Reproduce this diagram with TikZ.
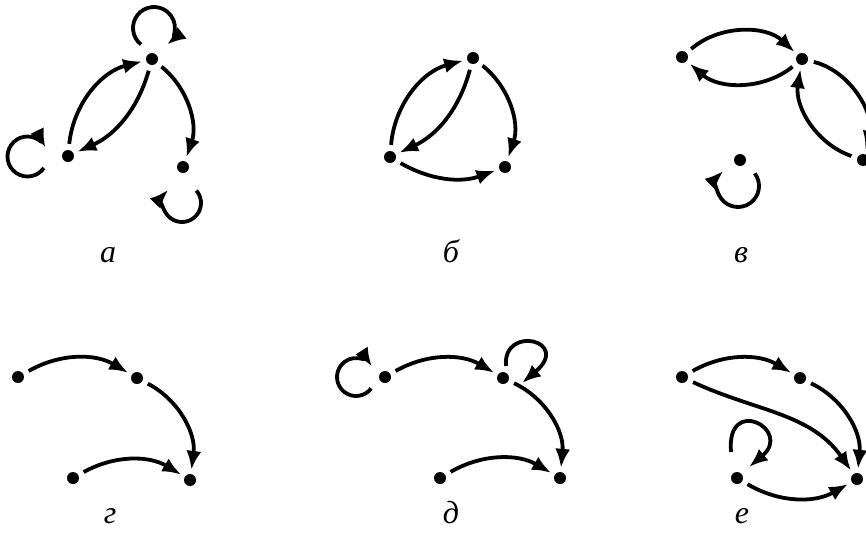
\documentclass[tikz,border=0pt]{standalone}
\usepackage{fontspec}
\setmainfont{Liberation Serif}
\usetikzlibrary{arrows.meta}

\begin{document}
\begin{tikzpicture}[
  x=1pt, y=1pt,
  vertex/.style={circle, fill=black, inner sep=0pt, minimum size=12pt},
  arr/.style={-{Latex[length=19pt,width=15pt]}, line width=3.8pt, shorten <=6pt, shorten >=4pt},
  loopline/.style={-{Latex[length=19pt,width=15pt]}, line width=3.8pt},
  caption/.style={font=\fontsize{32}{32}\selectfont\itshape, anchor=base}
]
  \useasboundingbox (0,0) rectangle (866,-538);

  % graph a
  \node[vertex] (a1) at (152,-59) {};
  \node[vertex] (a2) at (68,-156) {};
  \node[vertex] (a3) at (183,-167) {};
  \draw[arr] (a2) to[bend left=35] (a1);
  \draw[arr] (a1) to[bend left=25] (a2);
  \draw[arr] (a1) to[bend left=35] (a3);
  \coordinate (a1c) at ([shift={(2,31)}]a1.center);
  \coordinate (a2c) at ([shift={(-40.5,-0.5)}]a2.center);
  \coordinate (a3c) at ([shift={(-1,-36)}]a3.center);
  \draw[loopline] ([shift={(232:21)}]a1c) arc[start angle=232, end angle=-52, radius=21];
  \draw[loopline] ([shift={(-35:20)}]a2c) arc[start angle=-35, end angle=-334, radius=20];
  \draw[loopline] ([shift={(41:19)}]a3c) arc[start angle=41, end angle=-224, radius=19];
  \node[caption] (capa) at (108,-262) {а};

  % graph b
  \node[vertex] (b1) at (473,-58) {};
  \node[vertex] (b2) at (390,-157) {};
  \node[vertex] (b3) at (505,-167) {};
  \draw[arr] (b2) to[bend left=35] (b1);
  \draw[arr] (b1) to[bend left=25] (b2);
  \draw[arr] (b1) to[bend left=35] (b3);
  \draw[arr] (b2) to[bend right=25] (b3);
  \node[caption] (capb) at (451,-262) {б};

  % graph c
  \node[vertex] (c1) at (682,-57) {};
  \node[vertex] (c2) at (802,-59) {};
  \node[vertex] (c3) at (863,-160) {};
  \node[vertex] (c4) at (740,-160) {};
  \draw[arr] (c1) to[bend left=42] (c2);
  \draw[arr] (c2) to[bend left=40] (c1);
  \draw[arr] (c2) to[bend left=45] (c3);
  \draw[arr] (c3) to[bend left=40] (c2);
  \coordinate (c4c) at ([shift={(-2,-26)}]c4.center);
  \draw[loopline] ([shift={(37:21)}]c4c) arc[start angle=37, end angle=-226, radius=21];
  \node[caption] (capc) at (741,-262) {в};

  % graph d
  \node[vertex] (g1) at (18,-377) {};
  \node[vertex] (g2) at (137,-378) {};
  \node[vertex] (g3) at (190,-480) {};
  \node[vertex] (g4) at (73,-478) {};
  \draw[arr] (g1) to[bend left=30] (g2);
  \draw[arr] (g2) to[bend left=35] (g3);
  \draw[arr] (g4) to[bend left=30] (g3);
  \node[caption] (capg) at (110,-523) {г};

  % graph e
  \node[vertex] (d1) at (385,-377) {};
  \node[vertex] (d2) at (503,-378) {};
  \node[vertex] (d3) at (560,-478) {};
  \node[vertex] (d4) at (440,-478) {};
  \draw[arr] (d1) to[bend left=30] (d2);
  \draw[arr] (d2) to[bend left=35] (d3);
  \draw[arr] (d4) to[bend left=30] (d3);
  \coordinate (d1c) at ([shift={(-29,0)}]d1.center);
  \draw[loopline] ([shift={(-37:19)}]d1c) arc[start angle=-37, end angle=-327, radius=19];
  \draw[loopline] ([shift={(3,12)}]d2.center) .. controls +(95:42) and +(40:66) .. ([shift={(19,-5)}]d2.center);
  \node[caption] (capd) at (451,-523) {д};

  % graph f
  \node[vertex] (f1) at (682,-377) {};
  \node[vertex] (f2) at (800,-378) {};
  \node[vertex] (f3) at (857,-479) {};
  \node[vertex] (f4) at (737,-478) {};
  \draw[arr] (f1) to[bend left=30] (f2);
  \draw[arr] (f2) to[bend left=35] (f3);
  \draw[arr] (f1) to[out=-25, in=125] (f3);
  \draw[arr] (f4) to[bend right=30] (f3);
  \draw[loopline] ([shift={(-6,26)}]f4.center) .. controls +(95:58) and +(40:58) .. ([shift={(12,11)}]f4.center);
  \node[caption] (capf) at (742,-523) {е};
\end{tikzpicture}
\end{document}
